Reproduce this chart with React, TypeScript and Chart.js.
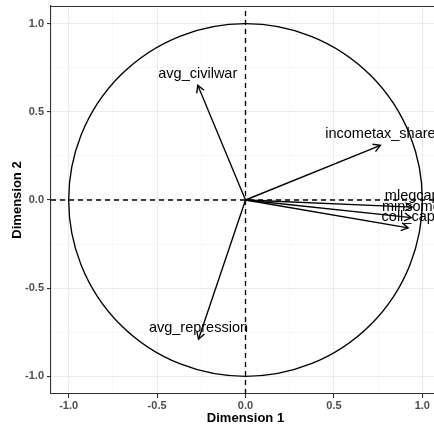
import React, { useEffect, useRef } from 'react';
import { Chart, registerables } from 'chart.js';

Chart.register(...registerables);

// ---- data ----
const variables = ['avg_civilwar', 'incometax_share', 'mlegcap', 'minsome', 'coll_cap', 'avg_repression'];
const dim1 = [-0.27, 0.763, 0.943, 0.938, 0.92, -0.266];
const dim2 = [0.65, 0.31, -0.04, -0.1, -0.158, -0.79];
const majorTicks = [-1, -0.5, 0, 0.5, 1];
const minorTicks = [-0.75, -0.25, 0.25, 0.75];
const tickLabels = ['-1.0', '-0.5', '0.0', '0.5', '1.0'];
const axisMin = -1.1;
const axisMax = 1.1;
const circleRadius = 1;

const FONT = "'Liberation Sans', Arial, Helvetica, sans-serif";
const LW = 1.35;

const isMajor = (v: number) => majorTicks.some((m) => Math.abs(m - v) < 1e-9);

const pcaPlugin = {
  id: 'pcaPlugin',
  beforeDatasetsDraw(chart: any) {
    const { ctx, chartArea: a, scales } = chart;
    const x = scales.x;
    const y = scales.y;
    const cx = x.getPixelForValue(0);
    const cy = y.getPixelForValue(0);
    const rx = x.getPixelForValue(circleRadius) - cx;
    const ry = cy - y.getPixelForValue(circleRadius);
    ctx.save();
    ctx.beginPath();
    ctx.rect(a.left, a.top, a.right - a.left, a.bottom - a.top);
    ctx.clip();
    ctx.strokeStyle = '#000';
    ctx.lineWidth = LW;
    ctx.beginPath();
    ctx.ellipse(cx, cy, rx, ry, 0, 0, Math.PI * 2);
    ctx.stroke();
    ctx.setLineDash([5, 4]);
    ctx.beginPath();
    ctx.moveTo(cx, a.bottom);
    ctx.lineTo(cx, a.top);
    ctx.moveTo(a.left, cy);
    ctx.lineTo(a.right, cy);
    ctx.stroke();
    ctx.restore();
  },
  afterDatasetsDraw(chart: any) {
    const { ctx } = chart;
    ctx.save();
    chart.data.datasets.forEach((ds: any, i: number) => {
      const meta = chart.getDatasetMeta(i);
      const p0 = meta.data[0];
      const p1 = meta.data[1];
      const ang = Math.atan2(p1.y - p0.y, p1.x - p0.x);
      const len = 8;
      const spread = Math.PI / 6;
      ctx.strokeStyle = '#000';
      ctx.lineWidth = LW;
      ctx.beginPath();
      ctx.moveTo(p1.x - len * Math.cos(ang - spread), p1.y - len * Math.sin(ang - spread));
      ctx.lineTo(p1.x, p1.y);
      ctx.lineTo(p1.x - len * Math.cos(ang + spread), p1.y - len * Math.sin(ang + spread));
      ctx.stroke();
    });
    ctx.font = `14.5px ${FONT}`;
    ctx.fillStyle = '#000';
    ctx.textAlign = 'center';
    ctx.textBaseline = 'middle';
    chart.data.datasets.forEach((ds: any, i: number) => {
      const meta = chart.getDatasetMeta(i);
      const p1 = meta.data[1];
      ctx.fillText(variables[i], p1.x, p1.y - 11);
    });
    ctx.restore();
  },
  afterDraw(chart: any) {
    const { ctx, chartArea: a } = chart;
    ctx.save();
    ctx.strokeStyle = '#333';
    ctx.lineWidth = 1.1;
    ctx.beginPath();
    ctx.moveTo(a.left, a.top + 0.5);
    ctx.lineTo(a.right, a.top + 0.5);
    ctx.moveTo(a.right - 0.5, a.top);
    ctx.lineTo(a.right - 0.5, a.bottom);
    ctx.stroke();
    ctx.restore();
  },
};

function axisOptions(title: string, isX: boolean) {
  return {
    type: 'linear',
    min: axisMin,
    max: axisMax,
    afterBuildTicks: (scale: any) => {
      const vals = [...majorTicks, ...minorTicks].sort((p, q) => p - q);
      scale.ticks = vals.map((v) => ({ value: v }));
    },
    afterFit: (scale: any) => {
      if (isX) {
        scale.height = 38;
        scale.paddingLeft = 0;
        scale.paddingRight = 0;
      } else {
        scale.width = 51;
        scale.paddingTop = 0;
        scale.paddingBottom = 0;
      }
    },
    grid: {
      color: (c: any) => (c.tick && isMajor(c.tick.value) ? '#EBEBEB' : '#F4F4F4'),
      lineWidth: (c: any) => (c.tick && isMajor(c.tick.value) ? 1.1 : 0.7),
      tickColor: (c: any) => (c.tick && isMajor(c.tick.value) ? '#333' : 'rgba(0,0,0,0)'),
      tickLength: 4,
      drawTicks: true,
    },
    border: { display: true, color: '#333', width: 1.1 },
    ticks: {
      autoSkip: false,
      maxRotation: 0,
      padding: isX ? 1 : 3,
      color: '#4D4D4D',
      font: { family: FONT, size: 11, weight: 'bold' },
      callback: (v: any) => {
        const idx = majorTicks.findIndex((m) => Math.abs(m - v) < 1e-9);
        return idx >= 0 ? tickLabels[idx] : '';
      },
    },
    title: {
      display: true,
      text: title,
      color: '#000',
      font: { family: FONT, size: 13, weight: 'bold' },
      padding: isX ? { top: 0, bottom: 6 } : { top: 10, bottom: 0 },
    },
  };
}

export default function App() {
  const ref = useRef<HTMLCanvasElement | null>(null);
  useEffect(() => {
    if (!ref.current) return;
    const datasets = variables.map((name, i) => ({
      label: name,
      data: [
        { x: 0, y: 0 },
        { x: dim1[i], y: dim2[i] },
      ],
      showLine: true,
      borderColor: '#000',
      borderWidth: LW,
      pointRadius: 0,
      pointHoverRadius: 0,
      fill: false,
    }));
    const chart = new Chart(ref.current, {
      type: 'scatter',
      data: { datasets } as any,
      options: {
        animation: false,
        responsive: false,
        devicePixelRatio: 1,
        layout: { padding: { top: 6, right: 6, left: 0, bottom: 0 } },
        plugins: { legend: { display: false }, tooltip: { enabled: false } },
        scales: {
          x: axisOptions('Dimension 1', true),
          y: axisOptions('Dimension 2', false),
        } as any,
      },
      plugins: [pcaPlugin],
    } as any);
    return () => chart.destroy();
  }, []);
  return (
    <div style={{ position: 'fixed', top: 0, left: 0, width: 434, height: 432, overflow: 'hidden', background: '#fff' }}>
      <canvas ref={ref} width={446} height={432} style={{ display: 'block', width: 446, height: 432 }} />
    </div>
  );
}
